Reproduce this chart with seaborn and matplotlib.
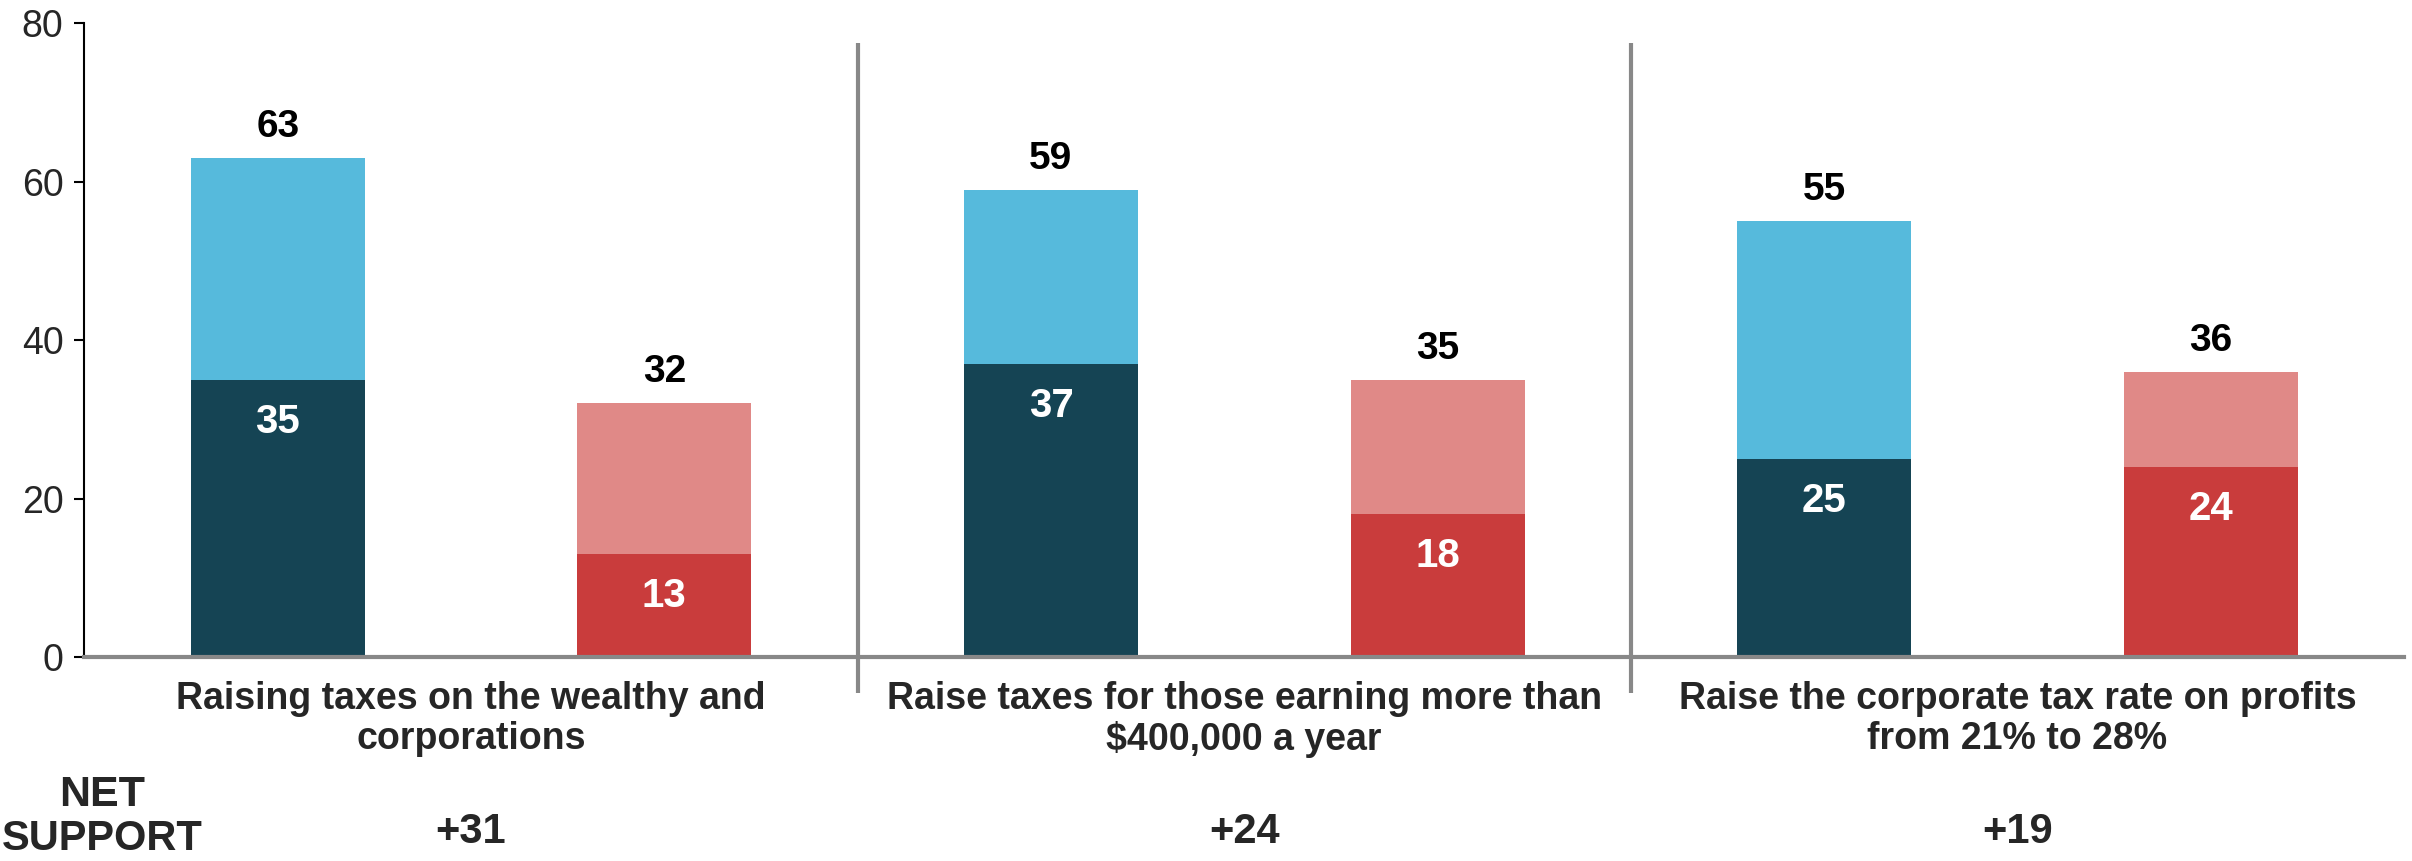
import matplotlib
matplotlib.use("Agg")
import matplotlib.pyplot as plt
import seaborn as sns
import pandas as pd

# Survey items and results (percent)
items = [
    "Raising taxes on the wealthy and\ncorporations",
    "Raise taxes for those earning more than\n$400,000 a year",
    "Raise the corporate tax rate on profits\nfrom 21% to 28%",
]
support_total = [63, 59, 55]
support_strong = [35, 37, 25]
oppose_total = [32, 35, 36]
oppose_strong = [13, 18, 24]
net_support = [31, 24, 19]
y_ticks = [0, 20, 40, 60, 80]

SUPPORT_LIGHT = "#56BADC"
SUPPORT_DARK = "#154454"
OPPOSE_LIGHT = "#E08987"
OPPOSE_DARK = "#C93C3C"

sns.set_style("white")
plt.rcParams["font.family"] = ["Liberation Sans", "DejaVu Sans"]

# One row per bar: support / oppose alternate inside each item
slots, totals, strongs, light, dark = [], [], [], [], []
for i in range(len(items)):
    slots += [f"s{i}", f"o{i}"]
    totals += [support_total[i], oppose_total[i]]
    strongs += [support_strong[i], oppose_strong[i]]
    light += [SUPPORT_LIGHT, OPPOSE_LIGHT]
    dark += [SUPPORT_DARK, OPPOSE_DARK]
df = pd.DataFrame({"slot": slots, "total": totals, "strong": strongs})

fig = plt.figure(figsize=(24.12, 8.61), dpi=100)
ax = fig.add_axes([0.035, 0.237, 0.9617, 0.736])

sns.barplot(data=df, x="slot", y="total", hue="slot", order=slots,
            palette=light, width=0.45, legend=False, saturation=1,
            linewidth=0, ax=ax)
sns.barplot(data=df, x="slot", y="strong", hue="slot", order=slots,
            palette=dark, width=0.45, legend=False, saturation=1,
            linewidth=0, ax=ax)

for pos, (t, s) in enumerate(zip(totals, strongs)):
    ax.text(pos, t + 2.65, f"{t}", ha="center", va="baseline",
            fontsize=28, fontweight="bold", color="black")
    ax.text(pos, s - 6.7, f"{s}", ha="center", va="baseline",
            fontsize=29, fontweight="bold", color="white")

# Group dividers reaching into the label area
for xd in [1.5, 3.5]:
    ax.plot([xd, xd], [-4.5, 77.5], color="#888888", lw=3, clip_on=False,
            solid_capstyle="butt", zorder=3)

ax.set_xlim(-0.5, 5.5)
ax.set_ylim(0, 80)
ax.set_yticks(y_ticks)
ax.set_yticklabels([str(v) for v in y_ticks], fontsize=27)
ax.tick_params(axis="y", length=7, width=1.5, color="black", pad=8, left=True)

ax.set_xticks([0.5, 2.5, 4.5])
ax.set_xticklabels(items, fontsize=27, fontweight="bold", linespacing=1.15)
ax.tick_params(axis="x", length=0, pad=17)
ax.set_xlabel("")
ax.set_ylabel("")

for side in ["top", "right"]:
    ax.spines[side].set_visible(False)
ax.spines["left"].set_color("black")
ax.spines["left"].set_linewidth(1.5)
ax.spines["bottom"].set_color("#888888")
ax.spines["bottom"].set_linewidth(3)

# Net support row
fig.text(0.0425, 0.064, "NET", ha="center", va="baseline",
         fontsize=31, fontweight="bold")
fig.text(0.0425, 0.013, "SUPPORT", ha="center", va="baseline",
         fontsize=30, fontweight="bold")
for i, n in enumerate(net_support):
    xf = ax.transData.transform((2 * i + 0.5, 0))[0] / fig.bbox.width
    fig.text(xf, 0.0209, f"+{n}", ha="center", va="baseline",
             fontsize=30, fontweight="bold")

fig.savefig("out.png", dpi=100)
